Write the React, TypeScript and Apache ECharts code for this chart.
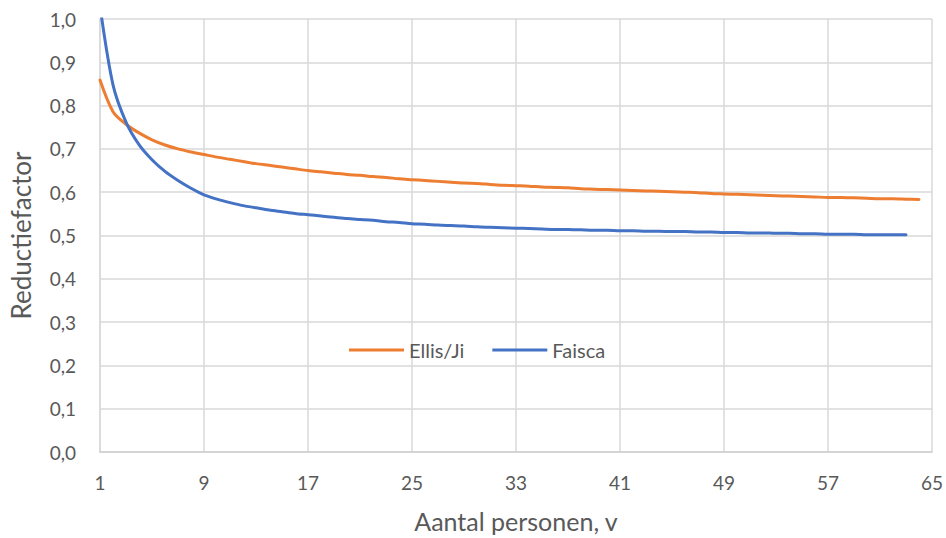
import React, { useEffect, useRef } from "react";
import * as echarts from "echarts";

// Number of persons v (category axis 1..65)
const personen: string[] = Array.from({ length: 65 }, (_, i) => String(i + 1));

// Reduction factor according to Ellis/Ji, v = 1..64
const ellisJi: number[] = [
  0.859, 0.786, 0.757, 0.737, 0.721, 0.709, 0.7, 0.693, 0.687, 0.681,
  0.676, 0.671, 0.666, 0.662, 0.658, 0.654, 0.65, 0.647, 0.644, 0.641,
  0.639, 0.636, 0.634, 0.631, 0.629, 0.627, 0.625, 0.623, 0.621, 0.62,
  0.618, 0.616, 0.615, 0.614, 0.612, 0.611, 0.61, 0.608, 0.607, 0.606,
  0.605, 0.604, 0.603, 0.602, 0.601, 0.6, 0.599, 0.597, 0.596, 0.595,
  0.594, 0.593, 0.592, 0.591, 0.59, 0.589, 0.588, 0.588, 0.587, 0.586,
  0.585, 0.585, 0.584, 0.583,
];

// Reduction factor according to Faisca, v = 1..63
const faisca: number[] = [
  1.03, 0.848, 0.762, 0.71, 0.675, 0.648, 0.627, 0.609, 0.594, 0.584,
  0.576, 0.569, 0.564, 0.559, 0.555, 0.551, 0.548, 0.545, 0.542, 0.539,
  0.537, 0.535, 0.532, 0.53, 0.527, 0.526, 0.524, 0.523, 0.522, 0.52,
  0.519, 0.518, 0.517, 0.516, 0.515, 0.514, 0.514, 0.513, 0.512, 0.512,
  0.511, 0.511, 0.51, 0.51, 0.509, 0.509, 0.508, 0.508, 0.507, 0.507,
  0.506, 0.506, 0.505, 0.505, 0.504, 0.504, 0.503, 0.503, 0.503, 0.502,
  0.502, 0.502, 0.502,
];

const FONT = "Lato, 'Open Sans', sans-serif";
const TEXT = "#595959";
const GRID = "#d9d9d9";

export default function App() {
  const ref = useRef<HTMLDivElement>(null);

  useEffect(() => {
    if (!ref.current) return;
    const chart = echarts.init(ref.current, undefined, { renderer: "svg" });
    chart.setOption({
      animation: false,
      backgroundColor: "#ffffff",
      textStyle: { fontFamily: FONT, color: TEXT },
      grid: { left: 100, right: 14, top: 19, bottom: 84 },
      legend: {
        left: 344,
        top: 335,
        icon: "rect",
        itemWidth: 55,
        itemHeight: 3,
        itemGap: 28,
        textStyle: { fontFamily: FONT, fontSize: 20, color: TEXT },
        data: ["Ellis/Ji", "Faisca"],
      },
      xAxis: {
        type: "category",
        data: personen,
        boundaryGap: false,
        name: "Aantal personen, v",
        nameLocation: "middle",
        nameGap: 56,
        nameTextStyle: { fontFamily: FONT, fontSize: 25, color: TEXT },
        axisLine: { lineStyle: { color: "#cfcfcf", width: 1.5 } },
        axisTick: { show: false },
        axisLabel: {
          interval: 7,
          margin: 21,
          fontFamily: FONT,
          fontSize: 19,
          color: TEXT,
        },
        splitLine: {
          show: true,
          interval: 7,
          lineStyle: { color: GRID, width: 1.5 },
        },
      },
      yAxis: {
        type: "value",
        min: 0,
        max: 1,
        interval: 0.1,
        name: "Reductiefactor",
        nameLocation: "middle",
        nameGap: 66,
        nameTextStyle: { fontFamily: FONT, fontSize: 26, color: TEXT },
        axisLine: { show: true, lineStyle: { color: GRID, width: 1.5 } },
        axisTick: { show: false },
        axisLabel: {
          margin: 24,
          fontFamily: FONT,
          fontSize: 19,
          color: TEXT,
          formatter: (v: number) => v.toFixed(1).replace(".", ","),
        },
        splitLine: { show: true, lineStyle: { color: GRID, width: 1.5 } },
      },
      series: [
        {
          name: "Ellis/Ji",
          type: "line",
          data: ellisJi,
          symbol: "none",
          smooth: 0.3,
          clip: true,
          lineStyle: { color: "#ED7D31", width: 3, cap: "round" },
          itemStyle: { color: "#ED7D31" },
        },
        {
          name: "Faisca",
          type: "line",
          data: faisca,
          symbol: "none",
          smooth: 0.3,
          clip: true,
          lineStyle: { color: "#4472C4", width: 3, cap: "round" },
          itemStyle: { color: "#4472C4" },
        },
      ],
    });
    return () => chart.dispose();
  }, []);

  return (
    <div
      ref={ref}
      style={{ position: "fixed", left: 0, top: 0, width: 946, height: 538 }}
    />
  );
}
